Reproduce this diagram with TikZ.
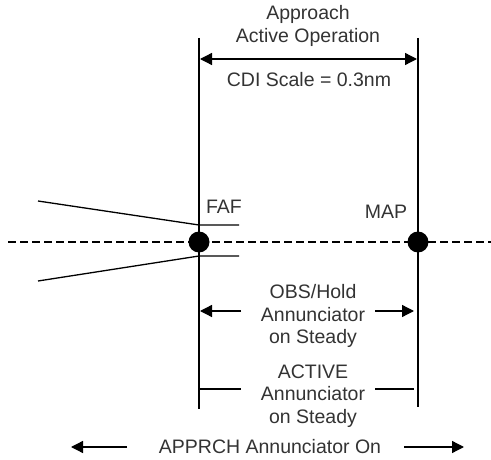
\documentclass[tikz,border=0pt]{standalone}
\usepackage{fontspec}
\setmainfont{Liberation Sans}
\usetikzlibrary{arrows.meta}
\begin{document}
\begin{tikzpicture}[x=1pt,y=-1pt,
  lbl/.style={font=\fontsize{19.5}{22.5}\selectfont, text=black!80, align=center, inner sep=0pt},
  dot/.style={circle, fill=black, minimum size=21pt, inner sep=0pt},
  ln/.style={line width=1.3pt},
  arr/.style={ln, -{Triangle[length=12pt,width=12pt]}},
  darr/.style={ln, {Triangle[length=12pt,width=12pt]}-{Triangle[length=12pt,width=12pt]}}]
\useasboundingbox (0,0) rectangle (491,460);
% vertical lines
\coordinate (fT) at (199,38);
\coordinate (fB) at (199,409);
\coordinate (mT) at (418,38);
\coordinate (mB) at (418,407);
\draw[ln] (fT) -- (fB);
\draw[ln] (mT) -- (mB);
% dashed centreline
\coordinate (dL) at (8,242);
\coordinate (dR) at (491,242);
\draw[line width=2.2pt, dash pattern=on 8pt off 4pt] (dL) -- (dR);
\node[dot] (faf) at (199,242) {};
\node[dot] (map) at (418,242) {};
% funnel
\coordinate (u0) at (38,201);
\coordinate (u1) at (199,225);
\coordinate (u2) at (239,225);
\coordinate (l0) at (38,281);
\coordinate (l1) at (199,256);
\coordinate (l2) at (239,256);
\draw[ln] (u0) -- (u1) -- (u2);
\draw[ln] (l0) -- (l1) -- (l2);
% labels
\node[lbl] (faft) at (224,207) {FAF};
\node[lbl] (mapt) at (386,212) {MAP};
\node[lbl] (appr) at (308,26) {Approach\\Active Operation};
\coordinate (aL) at (200,59);
\coordinate (aR) at (417,59);
\draw[darr] (aL) -- (aR);
\node[lbl] (cdi) at (309,80) {CDI Scale = 0.3nm};
% OBS/Hold
\node[lbl] (obs) at (313,316) {OBS/Hold\\Annunciator\\on Steady};
\coordinate (o1) at (241,311);
\coordinate (o2) at (200,311);
\coordinate (o3) at (375,311);
\coordinate (o4) at (414,311);
\draw[arr] (o1) -- (o2);
\draw[arr] (o3) -- (o4);
% ACTIVE
\node[lbl] (act) at (313,396) {ACTIVE\\Annunciator\\on Steady};
\coordinate (c1) at (200,389);
\coordinate (c2) at (241,389);
\coordinate (c3) at (375,389);
\coordinate (c4) at (414,389);
\draw[ln] (c1) -- (c2);
\draw[ln] (c3) -- (c4);
% APPRCH
\node[lbl] (apr) at (270,447) {APPRCH Annunciator On};
\coordinate (p1) at (127,447);
\coordinate (p2) at (71,447);
\coordinate (p3) at (404,447);
\coordinate (p4) at (464,447);
\draw[arr] (p1) -- (p2);
\draw[arr] (p3) -- (p4);
\end{tikzpicture}
\end{document}
